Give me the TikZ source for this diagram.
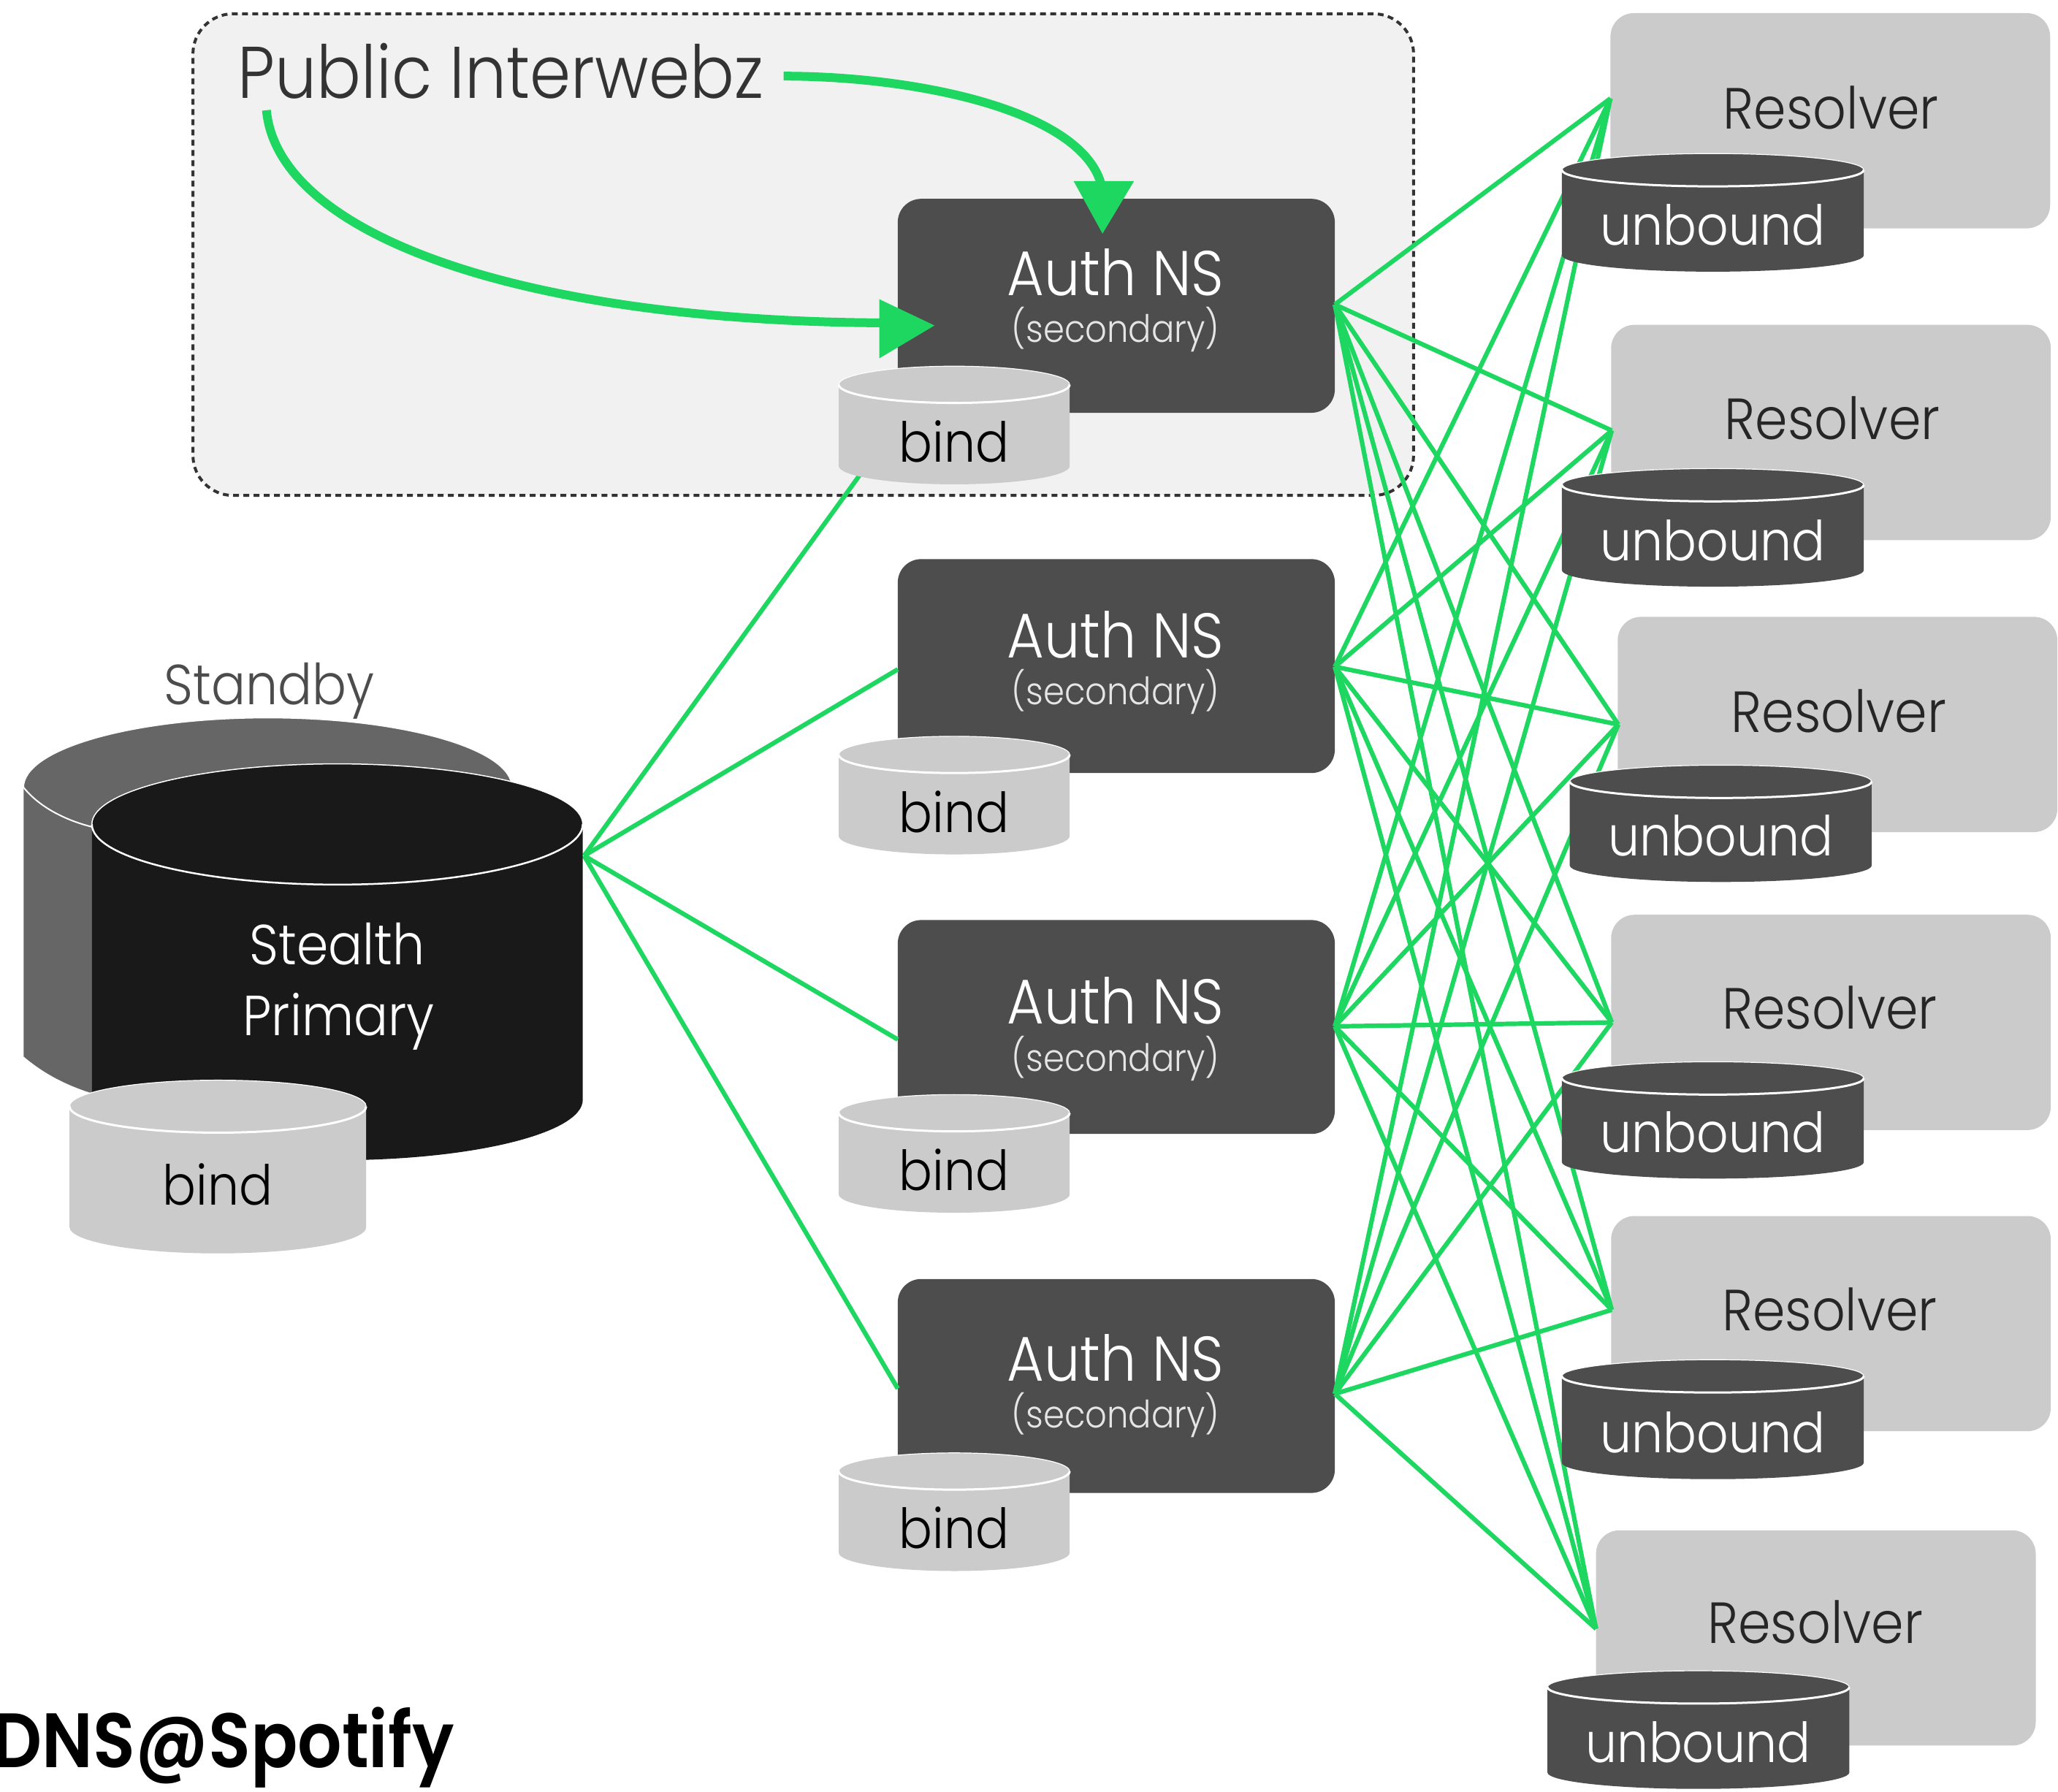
\documentclass[tikz,border=0pt]{standalone}
\usepackage{fontspec}
\setmainfont[FakeStretch=0.9]{Poppins Light}
\newfontfamily\boldf[FakeStretch=0.9]{Poppins SemiBold}
\usetikzlibrary{arrows.meta}
\definecolor{sgreen}{HTML}{1ED760}
\definecolor{darkbox}{HTML}{4D4D4D}
\definecolor{lightbox}{HTML}{CBCBCB}
\def\su{0.017966cm}
\def\cyloff{17}
\tikzset{
 x=0.017966cm,y=-0.017966cm,
 authbox/.style={draw=none,fill=darkbox,rounded corners=0.32cm,inner sep=0,minimum width=333*\su,minimum height=163*\su},
 resbox/.style={draw=none,fill=lightbox,rounded corners=0.32cm,inner sep=0,minimum width=335*\su,minimum height=164*\su},
 link/.style={draw=sgreen,line width=0.62mm},
 bigarrow/.style={draw=sgreen,line width=1.2mm},
 headfill/.style={fill=sgreen,draw=none},
 lab/.style={anchor=base,inner sep=0,font=\fontsize{22}{22}\selectfont},
 reslab/.style={anchor=base,inner sep=0,font=\fontsize{22.6}{23}\selectfont},
 authlab/.style={anchor=base,inner sep=0,font=\fontsize{24.6}{25}\selectfont},
 sublab/.style={anchor=base,inner sep=0,font=\fontsize{14.7}{15}\selectfont},
 cyllab/.style={anchor=base,inner sep=0,font=\fontsize{21.5}{22}\selectfont},
}
% name, cx, top, rx, ry, bottom, fill, text colour, text
\newcommand{\cyl}[9]{%
 \fill[#7] (#2-#4,#3+#5) arc[start angle=180,end angle=0,x radius=#4*\su,y radius=#5*\su]
   -- (#2+#4,#6-#5) arc[start angle=0,end angle=-180,x radius=#4*\su,y radius=#5*\su] -- cycle;
 \draw[white,line width=0.3mm] (#2-#4,#3+#5) arc[start angle=180,end angle=360,x radius=#4*\su,y radius=#5*\su];
 \draw[white,line width=0.12mm] (#2-#4,#3+#5) arc[start angle=180,end angle=0,x radius=#4*\su,y radius=#5*\su];
 \node[cyllab,text=#8] (#1) at (#2,#6-\cyloff) {#9};
}
\begin{document}
\begin{tikzpicture}
\useasboundingbox (0,0) rectangle (1568,1365);
% public zone
\node[draw=black!80,line width=0.4mm,dash pattern=on 0.8mm off 0.6mm,fill=black!5.5,rounded corners=0.55cm,inner sep=0,minimum width=930*\su,minimum height=367*\su] (pub) at (612,194) {};
% boxes
\node[authbox] (a1) at (850.5,233) {};
\node[authbox] (a2) at (850.5,507.5) {};
\node[authbox] (a3) at (850.5,782.5) {};
\node[authbox] (a4) at (850.5,1056) {};
\node[resbox] (r1) at (1394.5,92) {};
\node[resbox] (r2) at (1395,329.5) {};
\node[resbox] (r3) at (1400,552) {};
\node[resbox] (r4) at (1395,779) {};
\node[resbox] (r5) at (1395,1008.5) {};
\node[resbox] (r6) at (1383.5,1248) {};
% anchor points
\coordinate (s) at (445,652);
\coordinate (b1p) at (655,362);
\coordinate (a1p) at (1017,232);
\coordinate (a2p) at (1017,508);
\coordinate (a3p) at (1017,782);
\coordinate (a4p) at (1017,1062);
\coordinate (a2w) at (684,510);
\coordinate (a3w) at (684,792);
\coordinate (a4w) at (684,1058);
\coordinate (r1p) at (1227,75);
\coordinate (r2p) at (1228,328);
\coordinate (r3p) at (1233,552);
\coordinate (r4p) at (1228,779);
\coordinate (r5p) at (1228,998);
\coordinate (r6p) at (1216,1241);
% links
\foreach \e in {b1p,a2w,a3w,a4w} \draw[link] (s) -- (\e);
\foreach \a in {a1p,a2p,a3p,a4p}
  \foreach \r in {r1p,r2p,r3p,r4p,r5p,r6p}
    \draw[link] (\a) -- (\r);
% labels in boxes
\foreach \n/\y in {a1/225,a2/501,a3/780,a4/1052}
  \node[authlab,text=white] at (850,\y) {Auth NS};
\foreach \n/\y in {a1/261,a2/537,a3/816,a4/1088}
  \node[sublab,text=white!90!black] at (850,\y) {(secondary)};
\foreach \x/\y in {1395/98,1396/335,1401/558,1394/784,1394/1014,1383/1252}
  \node[reslab,text=black!85] at (\x,\y) {Resolver};
% standby and primary
\fill[black!60] (18,600) arc[start angle=180,end angle=0,x radius=186*\su,y radius=53*\su] -- (390,700) -- (150,840) -- (70,833) .. controls (45,825) and (30,815) .. (18,805) -- cycle;
\draw[white,line width=0.12mm] (18,600) arc[start angle=180,end angle=0,x radius=186*\su,y radius=53*\su];
\draw[white,line width=0.2mm] (18,600) .. controls (30,615) and (50,625) .. (70,630);
\fill[black!90] (70,628) arc[start angle=180,end angle=0,x radius=187*\su,y radius=46*\su] -- (444,838) arc[start angle=0,end angle=-180,x radius=187*\su,y radius=46*\su] -- cycle;
\draw[white,line width=0.25mm] (70,628) arc[start angle=180,end angle=360,x radius=187*\su,y radius=46*\su];
\draw[white,line width=0.15mm] (70,628) arc[start angle=180,end angle=0,x radius=187*\su,y radius=46*\su];
\node[lab,text=black!70] (standby) at (205,537) {Standby};
\node[lab,text=white] (stealth) at (257,735) {Stealth};
\node[lab,text=white] (primary) at (258,789) {Primary};
% cylinders
\def\cyloff{37}
\cyl{bs}{166}{823}{113}{20}{955}{lightbox}{black}{bind}
\def\cyloff{17}
\cyl{b1}{727}{279}{88}{14}{369}{lightbox}{black}{bind}
\cyl{b2}{727}{561}{88}{14}{651}{lightbox}{black}{bind}
\cyl{b3}{727}{834}{88}{14}{924}{lightbox}{black}{bind}
\cyl{b4}{727}{1107}{88}{14}{1197}{lightbox}{black}{bind}
\def\cyloff{20}
\cyl{u1}{1305}{117}{115}{12.5}{207}{darkbox}{white}{unbound}
\cyl{u2}{1305}{357}{115}{12.5}{447}{darkbox}{white}{unbound}
\cyl{u3}{1311}{583}{115}{12.5}{672}{darkbox}{white}{unbound}
\cyl{u4}{1305}{809}{115}{12.5}{898}{darkbox}{white}{unbound}
\cyl{u5}{1305}{1036}{115}{12.5}{1127}{darkbox}{white}{unbound}
\cyl{u6}{1294}{1273}{115}{12.5}{1363}{darkbox}{white}{unbound}
% titles
\node[anchor=base west,inner sep=0,text=black!80,font=\fontsize{28.5}{29}\selectfont] (title) at (181,75) {Public Interwebz};
\node[anchor=base west,inner sep=0,text=black,font=\boldf\fontsize{30}{30}\selectfont] (dns) at (-6,1347) {DNS@Spotify};
% arrows from the title
\coordinate (t1) at (597,58);
\coordinate (t2) at (203,84);
\draw[bigarrow] (t1) .. controls (700,58) and (830,85) .. (840,145);
\fill[headfill] (818,138) -- (864,138) -- (840,178) -- cycle;
\draw[bigarrow] (t2) .. controls (212,180) and (400,245) .. (675,246);
\fill[headfill] (670,228) -- (712,248) -- (670,273) -- cycle;
\end{tikzpicture}
\end{document}
